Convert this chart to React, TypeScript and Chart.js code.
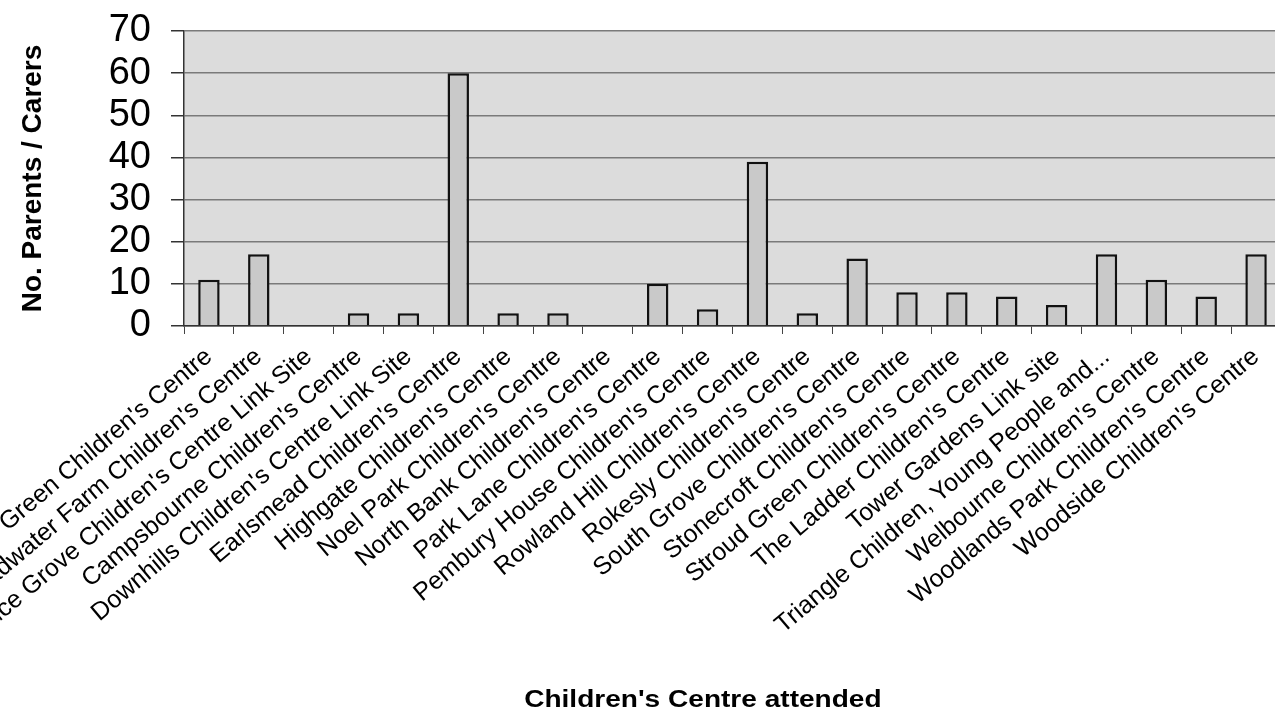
import React, { useEffect, useRef } from "react";
import { Chart, registerables } from "chart.js";

Chart.register(...registerables);

const categories: string[] = [
  "Bounds Green Children's Centre",
  "Broadwater Farm Children's Centre",
  "Bruce Grove Children's Centre Link Site",
  "Campsbourne Children's Centre",
  "Downhills Children's Centre Link Site",
  "Earlsmead Children's Centre",
  "Highgate Children's Centre",
  "Noel Park Children's Centre",
  "North Bank Children's Centre",
  "Park Lane Children's Centre",
  "Pembury House Children's Centre",
  "Rowland Hill Children's Centre",
  "Rokesly Children's Centre",
  "South Grove Children's Centre",
  "Stonecroft Children's Centre",
  "Stroud Green Children's Centre",
  "The Ladder Children's Centre",
  "Tower Gardens Link site",
  "Triangle Children, Young People and...",
  "Welbourne Children's Centre",
  "Woodlands Park Children's Centre",
  "Woodside Children's Centre",
];

const parentsCarers: number[] = [
  11, 17, 0, 3, 3, 60, 3, 3, 0, 10, 4, 39, 3, 16, 8, 8, 7, 5, 17, 11, 7, 17,
];

const yMin = 0;
const yMax = 70;
const yStep = 10;

const yAxisTitle = "No. Parents / Carers";
const xAxisTitle = "Children's Centre attended";

const FONT = "'Liberation Sans', Arial, Helvetica, sans-serif";

const plotBackground = {
  id: "plotBackground",
  beforeDraw(chart: any) {
    const { ctx, chartArea } = chart;
    ctx.save();
    ctx.fillStyle = "#dcdcdc";
    ctx.fillRect(
      chartArea.left,
      chartArea.top,
      chartArea.right - chartArea.left,
      chartArea.bottom - chartArea.top
    );
    ctx.restore();
  },
};

const xTitlePlugin = {
  id: "xTitlePlugin",
  afterDraw(chart: any) {
    const { ctx, chartArea, height } = chart;
    const cx = chartArea.left + (chartArea.right - chartArea.left) * 0.473;
    ctx.save();
    ctx.fillStyle = "#000";
    ctx.font = `bold 23px ${FONT}`;
    ctx.textAlign = "center";
    ctx.textBaseline = "alphabetic";
    ctx.translate(cx, height - 4);
    ctx.scale(1.22, 1);
    ctx.fillText(xAxisTitle, 0, 0);
    ctx.restore();
  },
};

export default function App() {
  const canvasRef = useRef<HTMLCanvasElement | null>(null);

  useEffect(() => {
    if (!canvasRef.current) return;
    Chart.defaults.font.family = FONT;
    const chart = new Chart(canvasRef.current, {
      type: "bar",
      data: {
        labels: categories,
        datasets: [
          {
            label: yAxisTitle,
            data: parentsCarers,
            backgroundColor: "#c9c9c9",
            borderColor: "#111111",
            borderWidth: 2.5,
            borderSkipped: "start",
            barPercentage: 0.43,
            categoryPercentage: 1,
          },
        ],
      },
      options: {
        responsive: false,
        animation: false,
        devicePixelRatio: 1,
        layout: { padding: { top: 31, left: 0, right: 0, bottom: 0 } },
        plugins: {
          legend: { display: false },
          tooltip: { enabled: false },
          title: { display: false },
        },
        scales: {
          x: {
            offset: true,
            grid: {
              display: true,
              drawOnChartArea: false,
              drawTicks: true,
              tickLength: 8,
              color: "#444444",
              lineWidth: 1,
              offset: true,
            },
            border: { display: true, color: "#333333", width: 1.5 },
            ticks: {
              autoSkip: false,
              maxRotation: 40,
              minRotation: 40,
              padding: 8,
              color: "#000",
              font: { family: FONT, size: 25 },
            },
            afterFit: (s: any) => {
              s.height = 385;
              s.paddingLeft = 0;
              s.paddingRight = 0;
            },
          },
          y: {
            min: yMin,
            max: yMax,
            ticks: {
              stepSize: yStep,
              autoSkip: false,
              padding: 20,
              color: "#000",
              font: { family: FONT, size: 38 },
            },
            grid: {
              color: "#7a7a7a",
              lineWidth: 1.5,
              tickLength: 13,
              drawTicks: true,
              tickColor: "#333333",
            },
            border: { display: true, color: "#333333", width: 1.5 },
            title: {
              display: true,
              text: yAxisTitle,
              color: "#000",
              font: { family: FONT, size: 28, weight: "bold" },
              padding: { top: 16, bottom: 0 },
            },
            afterFit: (s: any) => {
              s.width = 184;
              s.paddingTop = 0;
              s.paddingBottom = 0;
            },
          },
        },
      },
      plugins: [plotBackground, xTitlePlugin],
    });
    return () => chart.destroy();
  }, []);

  return (
    <div
      style={{
        position: "fixed",
        left: 0,
        top: 0,
        width: 1275,
        height: 711,
        overflow: "hidden",
        background: "#ffffff",
      }}
    >
      <canvas
        ref={canvasRef}
        width={1281}
        height={711}
        style={{ display: "block", width: 1281, height: 711 }}
      />
    </div>
  );
}
